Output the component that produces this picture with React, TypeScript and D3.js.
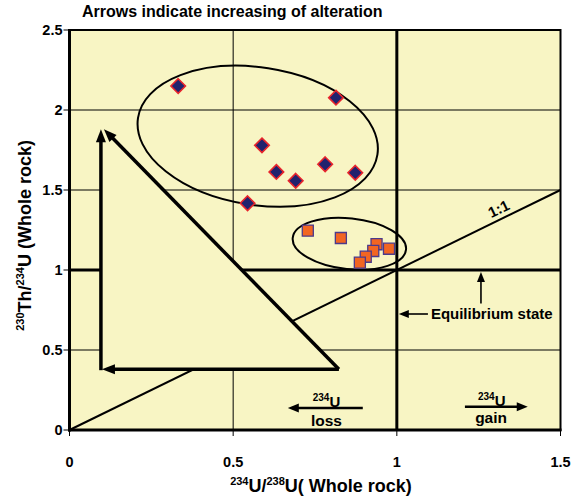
import React from "react";
import * as d3 from "d3";

const W = 574;
const H = 497;
const FONT = "'Liberation Sans', Arial, Helvetica, sans-serif";

const xTicks = [0, 0.5, 1, 1.5];
const xTickLabels = ["0", "0.5", "1", "1.5"];
const yTicks = [0, 0.5, 1, 1.5, 2, 2.5];
const yTickLabels = ["0", "0.5", "1", "1.5", "2", "2.5"];
const thinGridX = [0.5];
const thinGridY = [0.5, 1.5, 2, 2.5];

// Samples plotted as diamonds
const diamondX = [0.332, 0.814, 0.588, 0.632, 0.691, 0.781, 0.873, 0.544];
const diamondY = [2.15, 2.077, 1.779, 1.613, 1.558, 1.661, 1.608, 1.417];

// Samples plotted as squares
const squareX = [0.728, 0.829, 0.976, 0.938, 0.928, 0.905, 0.887];
const squareY = [1.246, 1.2, 1.133, 1.161, 1.119, 1.083, 1.046];

// Grouping ellipses: centre, semi-axes (data units), tilt (deg)
const ellipseCx = [0.575, 0.855];
const ellipseCy = [1.836, 1.164];
const ellipseRx = [0.37, 0.174];
const ellipseRy = [0.43, 0.159];
const ellipseTilt = [8.75, 6];

// Alteration triangle corners
const triLeft = 0.096;
const triRight = 0.823;
const triBottom = 0.38;
const triTop = 1.88;

const BG = "#F8F5C4";

type Pt = [number, number];

function Arrow({ from, to, sw, head, hw }: { from: Pt; to: Pt; sw: number; head: number; hw: number }) {
  const dx = to[0] - from[0];
  const dy = to[1] - from[1];
  const len = Math.hypot(dx, dy);
  const ux = dx / len;
  const uy = dy / len;
  const bx = to[0] - ux * head;
  const by = to[1] - uy * head;
  const px = -uy;
  const py = ux;
  const pts = [
    [to[0], to[1]],
    [bx + px * hw, by + py * hw],
    [bx - px * hw, by - py * hw],
  ]
    .map((p) => p.join(","))
    .join(" ");
  return (
    <g>
      <line x1={from[0]} y1={from[1]} x2={bx + ux * 1} y2={by + uy * 1} stroke="#000" strokeWidth={sw} />
      <polygon points={pts} fill="#000" />
    </g>
  );
}

export default function App() {
  const x = d3.scaleLinear().domain([0, 1.5]).range([69.5, 560.5]);
  const y = d3.scaleLinear().domain([0, 2.5]).range([430, 30]);
  const [x0, x1] = x.range();
  const [y0, y1] = y.range();

  const diamond = d3.symbol(d3.symbolDiamond2, 135)();
  const square = d3.symbol(d3.symbolSquare2, 155)();

  const slopeDeg = (Math.atan2(y(1) - y(0), x(1) - x(0)) * 180) / Math.PI;

  const triPts = [
    [x(triLeft), y(triBottom)],
    [x(triLeft), y(triTop)],
    [x(triRight), y(triBottom)],
  ]
    .map((p) => p.join(","))
    .join(" ");

  return (
    <svg
      width={W}
      height={H}
      style={{ position: "absolute", left: 0, top: 0, background: "#fff" }}
      fontFamily={FONT}
    >
      {/* plot area */}
      <rect x={x0} y={y1} width={x1 - x0} height={y0 - y1} fill={BG} />

      {/* thin grid */}
      {thinGridX.map((v) => (
        <line key={"gx" + v} x1={x(v)} x2={x(v)} y1={y0} y2={y1} stroke="#000" strokeWidth={1} />
      ))}
      {thinGridY.map((v) => (
        <line key={"gy" + v} x1={x0} x2={x1} y1={y(v)} y2={y(v)} stroke="#000" strokeWidth={1} />
      ))}

      {/* equilibrium lines */}
      <line x1={x(1)} x2={x(1)} y1={y0} y2={y1} stroke="#000" strokeWidth={3} />
      <line x1={x0} x2={x1} y1={y(1)} y2={y(1)} stroke="#000" strokeWidth={3} />

      {/* 1:1 line */}
      <line x1={x(0)} y1={y(0)} x2={x(1.5)} y2={y(1.5)} stroke="#000" strokeWidth={2} />
      <g transform={`translate(${x(1.325)},${y(1.325)}) rotate(${slopeDeg})`}>
        <text x={0} y={-5} textAnchor="middle" fontSize={15} fontWeight="bold">
          1:1
        </text>
      </g>

      {/* alteration triangle */}
      <polygon points={triPts} fill={BG} />
      <Arrow from={[x(triLeft), y(triBottom) + 1]} to={[x(triLeft), y(triTop)]} sw={3.5} head={13} hw={5} />
      <Arrow from={[x(triRight), y(triBottom)]} to={[x(triLeft) + 3, y(triTop)]} sw={3.5} head={13} hw={5} />
      <Arrow from={[x(triRight), y(triBottom)]} to={[x(triLeft) + 1, y(triBottom)]} sw={3.5} head={13} hw={5} />

      {/* group ellipses */}
      {ellipseCx.map((cx, i) => (
        <ellipse
          key={"el" + i}
          cx={0}
          cy={0}
          rx={x(ellipseRx[i]) - x(0)}
          ry={y(0) - y(ellipseRy[i])}
          transform={`translate(${x(cx)},${y(ellipseCy[i])}) rotate(${ellipseTilt[i]})`}
          fill="none"
          stroke="#000"
          strokeWidth={2}
        />
      ))}

      {/* samples */}
      {diamondX.map((v, i) => (
        <path
          key={"d" + i}
          d={diamond as string}
          transform={`translate(${x(v)},${y(diamondY[i])})`}
          fill="#20226E"
          stroke="#E8242C"
          strokeWidth={1.6}
        />
      ))}
      {squareX.map((v, i) => (
        <path
          key={"s" + i}
          d={square as string}
          transform={`translate(${x(v)},${y(squareY[i])})`}
          fill="#F26522"
          stroke="#4B3A8C"
          strokeWidth={1.3}
        />
      ))}

      {/* equilibrium annotation */}
      <Arrow from={[x(1.257), y(0.79)]} to={[x(1.257), y(1) + 2]} sw={1.6} head={10} hw={4} />
      <Arrow from={[x(1.095), y(0.725)]} to={[x(1) + 2, y(0.725)]} sw={1.6} head={10} hw={4} />
      <text x={x(1.104)} y={y(0.725) + 5} fontSize={15} fontWeight="bold">
        Equilibrium state
      </text>

      {/* 234U loss / gain */}
      <Arrow from={[x(0.896), y(0.1375)]} to={[x(0.667), y(0.1375)]} sw={2.5} head={11} hw={4.5} />
      <text x={x(0.785)} y={y(0.1375) - 1} textAnchor="middle" fontSize={15} fontWeight="bold">
        <tspan fontSize={10} dy={-6}>234</tspan>
        <tspan dy={6}>U</tspan>
      </text>
      <text x={x(0.785)} y={y(0.1375) + 18} textAnchor="middle" fontSize={15.5} fontWeight="bold">
        loss
      </text>
      <Arrow from={[x(1.208), y(0.146)]} to={[x(1.4), y(0.146)]} sw={2.5} head={11} hw={4.5} />
      <text x={x(1.29)} y={y(0.146) - 1} textAnchor="middle" fontSize={15} fontWeight="bold">
        <tspan fontSize={10} dy={-6}>234</tspan>
        <tspan dy={6}>U</tspan>
      </text>
      <text x={x(1.288)} y={y(0.146) + 16} textAnchor="middle" fontSize={15.5} fontWeight="bold">
        gain
      </text>

      {/* frame */}
      <rect x={x0} y={y1} width={x1 - x0} height={y0 - y1} fill="none" stroke="#000" strokeWidth={2} />
      <line x1={x0} x2={x0} y1={y1 - 1} y2={y0 + 1.5} stroke="#000" strokeWidth={3} />
      <line x1={x0 - 1.5} x2={x1 + 1} y1={y0} y2={y0} stroke="#000" strokeWidth={3} />

      {/* axes ticks and labels */}
      {yTicks.map((v, i) => (
        <g key={"yt" + v}>
          <line x1={x0 - 6} x2={x0} y1={y(v)} y2={y(v)} stroke="#000" strokeWidth={1} />
          <text x={x0 - 7} y={y(v) + 5} textAnchor="end" fontSize={14.5} fontWeight="bold">
            {yTickLabels[i]}
          </text>
        </g>
      ))}
      {xTicks.map((v, i) => (
        <g key={"xt" + v}>
          <line x1={x(v)} x2={x(v)} y1={y0} y2={y0 + 6} stroke="#000" strokeWidth={1} />
          <text x={x(v)} y={y0 + 37} textAnchor="middle" fontSize={14.5} fontWeight="bold">
            {xTickLabels[i]}
          </text>
        </g>
      ))}

      {/* axis titles */}
      <text x={(x0 + x1) / 2 + 6} y={492} textAnchor="middle" fontSize={18} fontWeight="bold">
        <tspan fontSize={11} dy={-7}>234</tspan>
        <tspan dy={7}>U/</tspan>
        <tspan fontSize={11} dy={-7}>238</tspan>
        <tspan dy={7}>U( Whole rock)</tspan>
      </text>
      <text transform={`translate(31,${y(0.62)}) rotate(-90)`} textAnchor="start" fontSize={18} fontWeight="bold">
        <tspan fontSize={11} dy={-7}>230</tspan>
        <tspan dy={7}>Th/</tspan>
        <tspan fontSize={11} dy={-7}>234</tspan>
        <tspan dy={7}>U (Whole rock)</tspan>
      </text>

      {/* title */}
      <text x={82} y={17} fontSize={16} fontWeight="bold">
        Arrows indicate increasing of alteration
      </text>
    </svg>
  );
}
